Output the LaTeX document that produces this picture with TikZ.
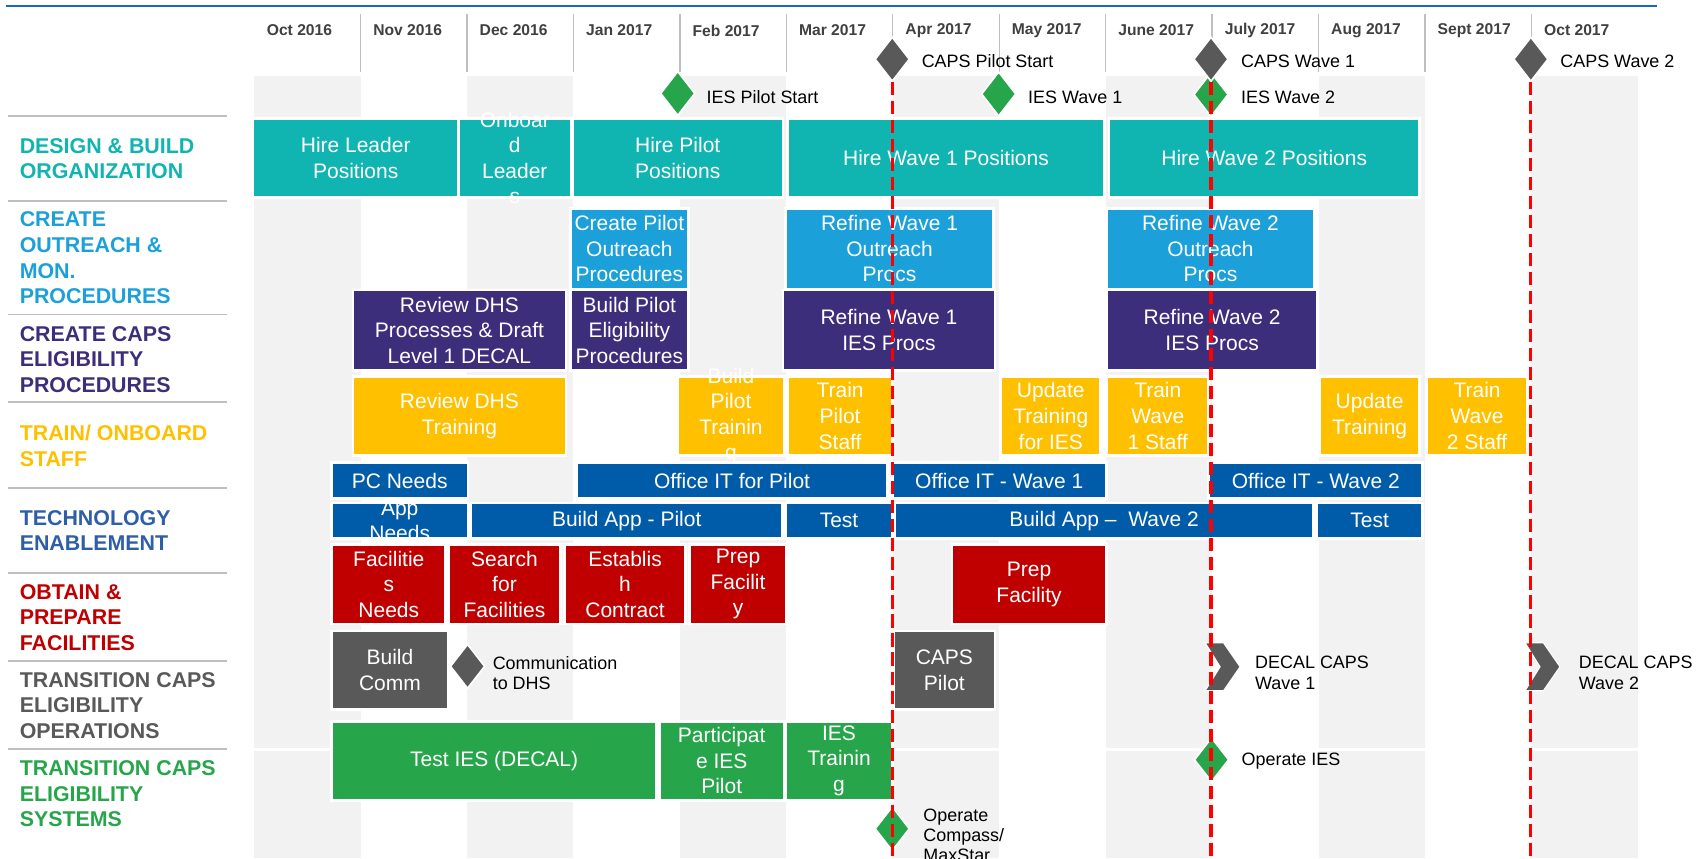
\documentclass[tikz,border=0pt]{standalone}
\usepackage{fontspec}
\setmainfont{Liberation Sans}
\usetikzlibrary{positioning,shapes.geometric}
\definecolor{capsteal}{RGB}{16,180,176}
\definecolor{capssky}{RGB}{27,160,218}
\definecolor{capspurple}{RGB}{61,46,124}
\definecolor{capsyellow}{RGB}{255,192,0}
\definecolor{capsblue}{RGB}{0,92,169}
\definecolor{capstech}{RGB}{46,94,168}
\definecolor{capsred}{RGB}{192,0,0}
\definecolor{capsgray}{RGB}{89,89,89}
\definecolor{capsgreen}{RGB}{39,165,74}
\definecolor{bandgray}{RGB}{242,242,242}
\definecolor{rulegray}{RGB}{191,191,191}
\definecolor{topblue}{RGB}{25,105,195}
\definecolor{monthtxt}{RGB}{64,64,64}

\begin{document}
\begin{tikzpicture}[x=1mm,y=-1mm,
  bartxt/.style={text=white,align=center,inner sep=0pt,font=\fontsize{5.5}{6.7}\selectfont},
  taskbar/.style={rectangle,draw=white,line width=0.25mm,bartxt},
  lanelbl/.style={anchor=west,align=left,inner sep=0pt,font=\bfseries\fontsize{5.6}{6.7}\selectfont},
  msdiam/.style={diamond,draw=white,line width=0.15mm,minimum width=3.2mm,minimum height=4.1mm,inner sep=0pt},
  mslbl/.style={anchor=west,align=left,inner sep=0pt,font=\fontsize{4.7}{5.3}\selectfont},
  monthlbl/.style={anchor=west,inner sep=0pt,text=monthtxt,font=\bfseries\fontsize{4.1}{5}\selectfont},
  golive/.style={red,line width=0.28mm,dash pattern=on 1.2mm off 0.55mm},
  decalmark/.pic={\fill[capsgray,draw=white,line width=0.1mm] (0,-2.21) -- (1.69,-2.21) -- (3.22,0) -- (1.69,2.21) -- (0,2.21) -- (1.38,0) -- cycle;}]
\useasboundingbox (0,0) rectangle (156.8,79.0);

\foreach \k in {0,2,...,12}
  \fill[bandgray] ({23.4+9.8*\k},7.0) rectangle ++(9.8,72.0);
\draw[white,line width=0.35mm] (23.4,69.0) -- (151,69.0);

\draw[topblue,line width=0.18mm] (0.55,0.55) -- (152.6,0.55);
\foreach \k in {1,...,12}
  \draw[rulegray,line width=0.12mm] ({23.4+9.8*\k},1.3) -- ++(0,5.3);
\foreach \m [count=\k from 0] in {Oct 2016,Nov 2016,Dec 2016,Jan 2017,Feb 2017,Mar 2017,Apr 2017,May 2017,June 2017,July 2017,Aug 2017,Sept 2017,Oct 2017}
  \node[monthlbl] (mon\k) at ({24.5+9.8*\k},2.8) {\m};

\foreach \y in {10.65,18.5,28.95,37.05,44.9,52.75,60.85,68.95}
  \draw[rulegray,line width=0.17mm] (0.7,\y) -- (20.9,\y);
\node[lanelbl,text=capsteal] (laneOrg) at (1.75,14.6) {DESIGN \& BUILD\\ORGANIZATION};
\node[lanelbl,text=capssky] (laneOutreach) at (1.75,23.75) {CREATE\\OUTREACH \&\\MON.\\PROCEDURES};
\node[lanelbl,text=capspurple] (laneElig) at (1.75,33.1) {CREATE CAPS\\ELIGIBILITY\\PROCEDURES};
\node[lanelbl,text=capsyellow] (laneTrain) at (1.75,41.05) {TRAIN/ ONBOARD\\STAFF};
\node[lanelbl,text=capstech] (laneTech) at (1.75,48.85) {TECHNOLOGY\\ENABLEMENT};
\node[lanelbl,text=capsred] (laneFac) at (1.75,56.85) {OBTAIN \&\\PREPARE\\FACILITIES};
\node[lanelbl,text=capsgray] (laneOps) at (1.75,64.95) {TRANSITION CAPS\\ELIGIBILITY\\OPERATIONS};
\node[lanelbl,text=capsgreen] (laneSys) at (1.75,73.1) {TRANSITION CAPS\\ELIGIBILITY\\SYSTEMS};

\node[taskbar,fill=capsteal,minimum width=18.9mm,minimum height=7.3mm] (hireLeader) at (32.75,14.55) {Hire Leader\\Positions};
\node[taskbar,fill=capsteal,minimum width=10.4mm,minimum height=7.3mm] (onboardLdr) at (47.4,14.55) {};
\node[bartxt] (onboardLdrTxt) at (onboardLdr) {Onboar\\d\\Leader\\s};
\node[taskbar,fill=capsteal,minimum width=19.4mm,minimum height=7.3mm] (hirePilot) at (62.4,14.55) {Hire Pilot\\Positions};
\node[taskbar,fill=capsteal,minimum width=29.2mm,minimum height=7.3mm] (hireW1) at (87.1,14.55) {Hire Wave 1 Positions};
\node[taskbar,fill=capsteal,minimum width=28.6mm,minimum height=7.3mm] (hireW2) at (116.4,14.55) {Hire Wave 2 Positions};

\node[taskbar,fill=capssky,minimum width=10.9mm,minimum height=7.4mm] (outPilot) at (57.95,22.9) {Create Pilot\\Outreach\\Procedures};
\node[taskbar,fill=capssky,minimum width=19.2mm,minimum height=7.4mm] (outW1) at (81.9,22.9) {Refine Wave 1\\Outreach\\Procs};
\node[taskbar,fill=capssky,minimum width=19.1mm,minimum height=7.4mm] (outW2) at (111.45,22.9) {Refine Wave 2\\Outreach\\Procs};

\node[taskbar,fill=capspurple,minimum width=19.6mm,minimum height=7.4mm] (procReview) at (42.3,30.4) {Review DHS\\Processes \& Draft\\Level 1 DECAL};
\node[taskbar,fill=capspurple,minimum width=10.9mm,minimum height=7.4mm] (procPilot) at (57.95,30.4) {Build Pilot\\Eligibility\\Procedures};
\node[taskbar,fill=capspurple,minimum width=19.5mm,minimum height=7.4mm] (procW1) at (81.85,30.4) {Refine Wave 1\\IES Procs};
\node[taskbar,fill=capspurple,minimum width=19.4mm,minimum height=7.4mm] (procW2) at (111.6,30.4) {Refine Wave 2\\IES Procs};

\node[taskbar,fill=capsyellow,minimum width=19.6mm,minimum height=7.3mm] (trainReview) at (42.3,38.3) {Review DHS\\Training};
\node[taskbar,fill=capsyellow,minimum width=9.8mm,minimum height=7.3mm] (trainBuild) at (67.3,38.3) {};
\node[bartxt] (trainBuildTxt) at (trainBuild) {Build\\Pilot\\Trainin\\g};
\node[taskbar,fill=capsyellow,minimum width=9.7mm,minimum height=7.3mm] (trainPilot) at (77.35,38.3) {Train\\Pilot\\Staff};
\node[taskbar,fill=capsyellow,minimum width=9.2mm,minimum height=7.3mm] (trainUpdIES) at (96.75,38.3) {Update\\Training\\for IES};
\node[taskbar,fill=capsyellow,minimum width=9.4mm,minimum height=7.3mm] (trainW1) at (106.6,38.3) {Train\\Wave\\1 Staff};
\node[taskbar,fill=capsyellow,minimum width=9.2mm,minimum height=7.3mm] (trainUpd) at (126.1,38.3) {Update\\Training};
\node[taskbar,fill=capsyellow,minimum width=9.3mm,minimum height=7.3mm] (trainW2) at (136.0,38.3) {Train\\Wave\\2 Staff};

\node[taskbar,fill=capsblue,minimum width=12.6mm,minimum height=3.3mm] (itPC) at (36.8,44.25) {PC Needs};
\node[taskbar,fill=capsblue,minimum width=28.6mm,minimum height=3.3mm] (itPilot) at (67.4,44.25) {Office IT for Pilot};
\node[taskbar,fill=capsblue,minimum width=19.7mm,minimum height=3.3mm] (itW1) at (92.0,44.25) {Office IT - Wave 1};
\node[taskbar,fill=capsblue,minimum width=19.7mm,minimum height=3.3mm] (itW2) at (121.15,44.25) {Office IT - Wave 2};

\node[taskbar,fill=capsblue,minimum width=12.6mm,minimum height=3.3mm] (appNeeds) at (36.8,47.95) {};
\node[bartxt] (appNeedsTxt) at (appNeeds) {App\\Needs};
\node[taskbar,fill=capsblue,minimum width=28.7mm,minimum height=3.3mm] (appPilot) at (57.7,47.95) {Build App - Pilot};
\node[taskbar,fill=capsblue,minimum width=9.9mm,minimum height=3.3mm] (appTest) at (77.25,47.95) {Test};
\node[taskbar,fill=capsblue,minimum width=38.6mm,minimum height=3.3mm] (appW2) at (101.65,47.95) {Build App --~ Wave 2};
\node[taskbar,fill=capsblue,minimum width=9.8mm,minimum height=3.3mm] (appTestW2) at (126.1,47.95) {Test};

\node[taskbar,fill=capsred,minimum width=10.5mm,minimum height=7.3mm] (facNeeds) at (35.8,53.8) {Facilitie\\s\\Needs};
\node[taskbar,fill=capsred,minimum width=10.3mm,minimum height=7.3mm] (facSearch) at (46.45,53.8) {Search\\for\\Facilities};
\node[taskbar,fill=capsred,minimum width=11.1mm,minimum height=7.3mm] (facContract) at (57.55,53.8) {Establis\\h\\Contract};
\node[taskbar,fill=capsred,minimum width=8.9mm,minimum height=7.3mm] (facPrep) at (67.95,53.8) {Prep\\Facilit\\y};
\node[taskbar,fill=capsred,minimum width=14.2mm,minimum height=7.3mm] (facPrepW1) at (94.75,53.8) {Prep\\Facility};

\node[taskbar,fill=capsgray,minimum width=10.8mm,minimum height=7.2mm] (commBuild) at (35.9,61.7) {Build\\Comm};
\node[taskbar,fill=capsgray,minimum width=9.3mm,minimum height=7.2mm] (capsPilotBox) at (86.95,61.7) {CAPS\\Pilot};

\node[taskbar,fill=capsgreen,minimum width=29.95mm,minimum height=7.3mm] (iesTest) at (45.5,70.05) {Test IES (DECAL)};
\node[taskbar,fill=capsgreen,minimum width=11.5mm,minimum height=7.3mm] (iesPart) at (66.45,70.05) {Participat\\e IES\\Pilot};
\node[taskbar,fill=capsgreen,minimum width=9.9mm,minimum height=7.3mm] (iesTrain) at (77.25,70.05) {IES\\Trainin\\g};

\node[msdiam,fill=capsgreen] (iesPilotMs) at (62.4,8.6) {};
\node[mslbl] (iesPilotLbl) at (65.0,8.95) {IES Pilot Start};
\node[msdiam,fill=capsgreen] (iesW1Ms) at (91.95,8.65) {};
\node[mslbl] (iesW1Lbl) at (94.6,8.95) {IES Wave 1};
\node[msdiam,fill=capsgreen] (iesW2Ms) at (111.5,8.7) {};
\node[mslbl] (iesW2Lbl) at (114.2,8.95) {IES Wave 2};
\node[msdiam,fill=capsgray] (capsPilotMs) at (82.15,5.45) {};
\node[mslbl] (capsPilotLbl) at (84.8,5.6) {CAPS Pilot Start};
\node[msdiam,fill=capsgray] (capsW1Ms) at (111.5,5.45) {};
\node[mslbl] (capsW1Lbl) at (114.2,5.6) {CAPS Wave 1};
\node[msdiam,fill=capsgray] (capsW2Ms) at (140.95,5.45) {};
\node[mslbl] (capsW2Lbl) at (143.6,5.6) {CAPS Wave 2};

\node[msdiam,fill=capsgray] (commMs) at (43.05,61.35) {};
\node[mslbl] (commLbl) at (45.3,62.0) {Communication\\to DHS};
\pic (decalW1) at (110.96,61.39) {decalmark};
\node[mslbl] (decalW1Lbl) at (115.5,61.95) {DECAL CAPS\\Wave 1};
\pic (decalW2) at (140.41,61.39) {decalmark};
\node[mslbl] (decalW2Lbl) at (145.3,61.95) {DECAL CAPS\\Wave 2};
\node[msdiam,fill=capsgreen] (opIESMs) at (111.55,69.95) {};
\node[mslbl] (opIESLbl) at (114.25,70.1) {Operate IES};
\node[msdiam,fill=capsgreen] (opCompMs) at (82.15,76.3) {};
\node[mslbl] (opCompLbl) at (84.95,76.9) {Operate\\Compass/\\MaxStar};

\coordinate (chartBottom) at (0,79.5);
\foreach \ms in {capsPilotMs,capsW1Ms,capsW2Ms}
  \draw[golive] (\ms.south) -- (\ms.south |- chartBottom);
\end{tikzpicture}
\end{document}
